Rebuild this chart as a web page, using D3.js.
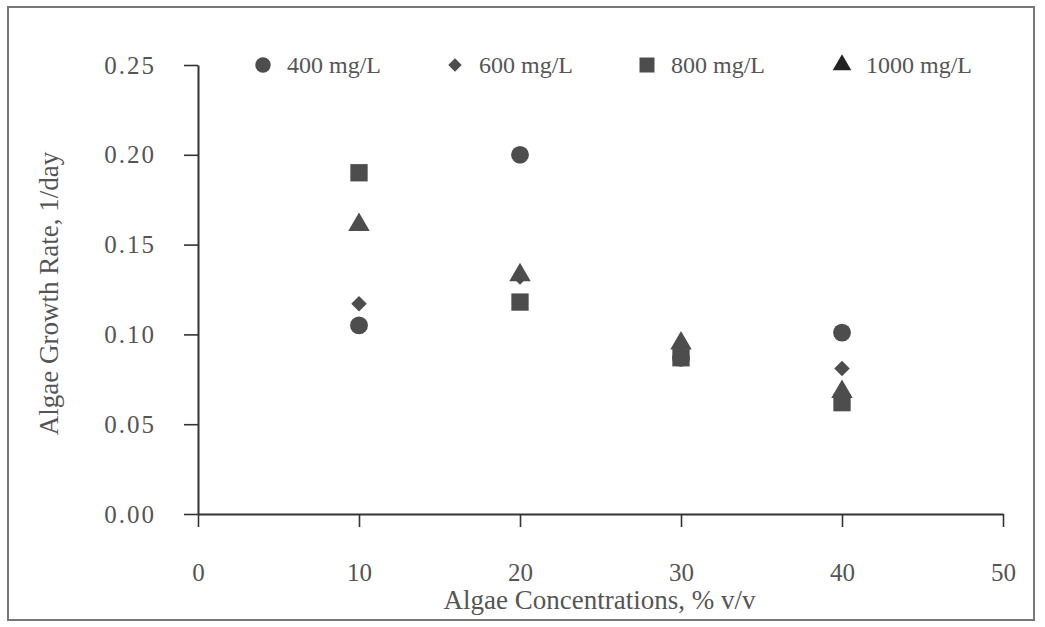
<!DOCTYPE html>
<html>
<head>
<meta charset="utf-8">
<script src="https://cdn.jsdelivr.net/npm/d3@7"></script>
<style>
  body { margin: 0; background: #fff; }
  text { font-family: "Liberation Serif", "Times New Roman", serif; fill: #555; }
</style>
</head>
<body>
<svg id="chart" width="1045" height="627"></svg>
<script>
// data
const concentrations = [10, 20, 30, 40];
const seriesNames = ["400 mg/L", "600 mg/L", "800 mg/L", "1000 mg/L"];
const rate400 = [0.105, 0.200, 0.087, 0.101];
const rate600 = [0.117, 0.132, 0.089, 0.081];
const rate800 = [0.190, 0.118, 0.087, 0.062];
const rate1000 = [0.161, 0.133, 0.095, 0.068];
const xTicks = [0, 10, 20, 30, 40, 50];
const yTicks = [0, 0.05, 0.10, 0.15, 0.20, 0.25];

// diamond = square turned 45deg
const series = [
  {name: seriesNames[0], values: rate400, symbol: d3.symbolCircle, size: 250, rot: 0},
  {name: seriesNames[1], values: rate600, symbol: d3.symbolSquare, size: 120, rot: 45},
  {name: seriesNames[2], values: rate800, symbol: d3.symbolSquare, size: 300, rot: 0},
  {name: seriesNames[3], values: rate1000, symbol: d3.symbolTriangle, size: 200, rot: 0}
];

const svg = d3.select("#chart");
const margin = {left: 198, right: 42, top: 65, bottom: 113};
const W = 1045, H = 627;

// frame
svg.append("rect")
  .attr("x", 8).attr("y", 7)
  .attr("width", 1026).attr("height", 613)
  .attr("fill", "none").attr("stroke", "#777").attr("stroke-width", 2);

const x = d3.scaleLinear().domain([0, 50]).range([margin.left, W - margin.right]);
const y = d3.scaleLinear().domain([0, 0.25]).range([H - margin.bottom, margin.top]);

// axes
const xAxis = svg.append("g")
  .attr("transform", `translate(0,${y(0)})`)
  .call(d3.axisBottom(x).tickValues(xTicks).tickSize(13).tickSizeOuter(0).tickPadding(36).tickFormat(d3.format("d")));
const yAxis = svg.append("g")
  .attr("transform", `translate(${x(0)},0)`)
  .call(d3.axisLeft(y).tickValues(yTicks).tickSize(14).tickSizeOuter(0).tickPadding(28).tickFormat(d3.format(".2f")));

[xAxis, yAxis].forEach(g => {
  g.select(".domain").attr("stroke", "#333").attr("stroke-width", 2);
  g.selectAll(".tick line").attr("stroke", "#333").attr("stroke-width", 1.6);
  g.selectAll(".tick text")
    .style("font-family", "Liberation Serif, serif")
    .style("font-size", "25px")
    .attr("fill", "#555");
});
yAxis.selectAll(".tick text").style("letter-spacing", "2px");

// axis titles
svg.append("text")
  .attr("x", (x(0) + x(50)) / 2 - 1)
  .attr("y", 609)
  .attr("text-anchor", "middle")
  .style("font-size", "27px")
  .text("Algae Concentrations, % v/v");

svg.append("text")
  .attr("transform", `translate(58,${(y(0) + y(0.25)) / 2 + 4}) rotate(-90)`)
  .attr("text-anchor", "middle")
  .style("font-size", "27px")
  .text("Algae Growth Rate, 1/day");

// points
const pts = svg.append("g");
series.forEach(s => {
  pts.selectAll(null)
    .data(s.values.map((v, i) => ({c: concentrations[i], v: v})))
    .join("path")
    .attr("d", d3.symbol().type(s.symbol).size(s.size))
    .attr("transform", d => `translate(${x(d.c)},${y(d.v)}) rotate(${s.rot})`)
    .attr("fill", "#4d4d4d");
});

// legend
const legendX = [263, 455, 647, 842];
const legend = svg.append("g").selectAll("g")
  .data(series)
  .join("g")
  .attr("transform", (d, i) => `translate(${legendX[i]},65) rotate(0)`);

legend.append("path")
  .attr("d", d => d3.symbol().type(d.symbol).size(d.size * 0.75)())
  .attr("transform", d => `rotate(${d.rot})`)
  .attr("fill", (d, i) => i === 3 ? "#222" : "#4d4d4d");

legend.append("text")
  .attr("x", 24)
  .attr("y", 8)
  .style("font-size", "24px")
  .text(d => d.name);
</script>
</body>
</html>
